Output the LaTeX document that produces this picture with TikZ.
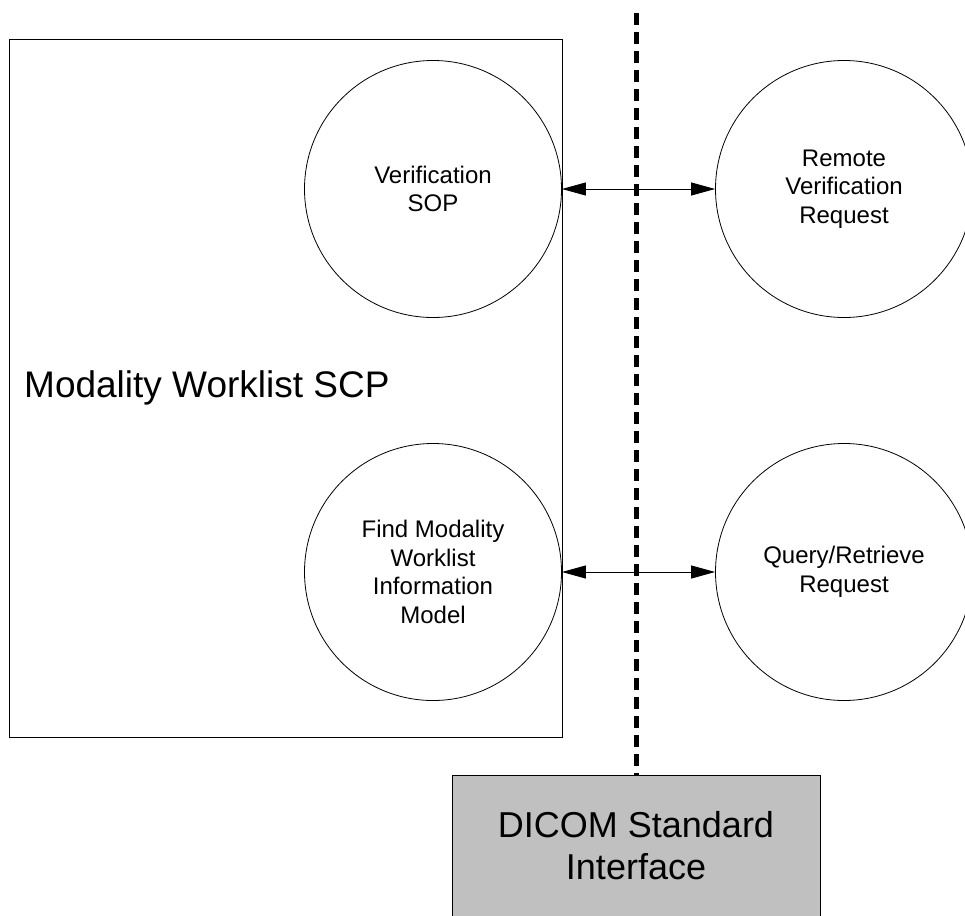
\documentclass[tikz,border=0pt]{standalone}
\usepackage{fontspec}
\setmainfont{Liberation Sans}
\usetikzlibrary{arrows.meta}
\definecolor{boxgray}{RGB}{192,192,192}
\tikzset{
	sop/.style={draw, circle, minimum size=257pt, inner sep=0pt, align=center, line width=0.8pt, font=\fontsize{24}{28.5}\selectfont},
	link/.style={{Triangle[length=24pt,width=13pt]}-{Triangle[length=24pt,width=13pt]}, line width=1pt},
	border/.style={dash pattern=on 12pt off 7pt, line width=5pt}
}
\begin{document}
\begin{tikzpicture}[x=1pt, y=-1pt]
		\useasboundingbox (0,0) rectangle (965,915);
		\clip (0,0) rectangle (965,915);
		\draw
		node[draw, line width=1pt, minimum width=553pt, minimum height=697pt, inner sep=0pt] at (286,388.5) (scp) {}
		node[anchor=base west, inner sep=0pt, font=\fontsize{37}{42}\selectfont] at (24,397) (scplabel) {Modality Worklist SCP}
		node[sop] at (433,189) (ver) {Verification\\SOP}
		node[sop] at (433,572) (find) {Find Modality\\Worklist\\Information\\Model}
		node[sop] at (844,189) (rver) {Remote\\Verification\\Request}
		node[sop] at (844,572) (qr) {Query/Retrieve\\Request}
		node[draw, fill=boxgray, line width=1pt, minimum width=368pt, minimum height=142pt, align=center, font=\fontsize{36}{42}\selectfont] at (636,846) (dicom) {DICOM Standard\\Interface};
		\coordinate (top) at (636,13);
		\draw[border] (top) -- (dicom.north);
		\draw[link] (ver.east) -- (rver.west);
		\draw[link] (find.east) -- (qr.west);
\end{tikzpicture}
\end{document}
